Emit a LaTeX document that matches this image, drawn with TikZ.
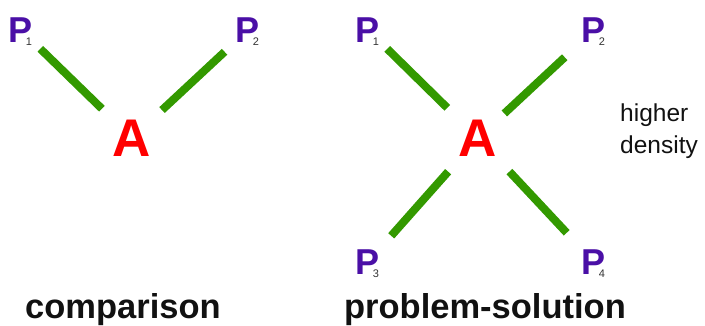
\documentclass[tikz,border=0pt]{standalone}
\usepackage{fontspec}
\setmainfont{Liberation Sans}
\definecolor{pcol}{HTML}{4A0FA6}
\definecolor{acol}{HTML}{FF0000}
\definecolor{bond}{HTML}{339900}
\definecolor{subgray}{HTML}{333333}
\definecolor{ink}{HTML}{111111}
\tikzset{
  pnode/.style={inner sep=0pt,text=pcol,font=\fontsize{36}{36}\selectfont\bfseries},
  subnum/.style={inner sep=0pt,text=subgray,font=\fontsize{11}{11}\selectfont},
  anode/.style={inner sep=0pt,text=acol,font=\fontsize{53}{53}\selectfont\bfseries},
  link/.style={draw=bond,line width=8pt},
  caption/.style={inner sep=0pt,text=ink,font=\fontsize{34.5}{34.5}\selectfont\bfseries,anchor=base},
  sidenote/.style={inner sep=0pt,text=ink,align=left,font=\fontsize{24.5}{32}\selectfont},
}
\begin{document}
\begin{tikzpicture}[x=1pt,y=-1pt]
\useasboundingbox (0,0) rectangle (705,325);

% comparison
\node[pnode] (lp1) at (21,30) {P};
\node[pnode] (lp2) at (248,30) {P};
\node[anode] (la) at (132,138) {A};
\node[subnum] at (29,42) {1};
\node[subnum] at (256,42) {2};
\draw[link,shorten <=27pt,shorten >=42pt] (lp1.center) -- (la.center);
\draw[link,shorten <=32pt,shorten >=41pt] (lp2.center) -- (la.center);

% problem-solution
\node[pnode] (rp1) at (368,30) {P};
\node[pnode] (rp2) at (594,30) {P};
\node[pnode] (rp3) at (368,262) {P};
\node[pnode] (rp4) at (594,262) {P};
\node[anode] (ra) at (478,138) {A};
\node[subnum] at (376,42) {1};
\node[subnum] at (602,42) {2};
\node[subnum] at (376,274) {3};
\node[subnum] at (602,274) {4};
\draw[link,shorten <=27pt,shorten >=43pt] (rp1.center) -- (ra.center);
\draw[link,shorten <=40pt,shorten >=36pt] (rp2.center) -- (ra.center);
\draw[link,shorten <=35pt,shorten >=45pt] (rp3.center) -- (ra.center);
\draw[link,shorten <=40pt,shorten >=46pt] (rp4.center) -- (ra.center);

\node[sidenote,anchor=north west] (dens) at (620,104) {higher\\density};

\node[caption] (cmp) at (123,318) {comparison};
\node[caption] (ps) at (485,318) {problem-solution};
\end{tikzpicture}
\end{document}
